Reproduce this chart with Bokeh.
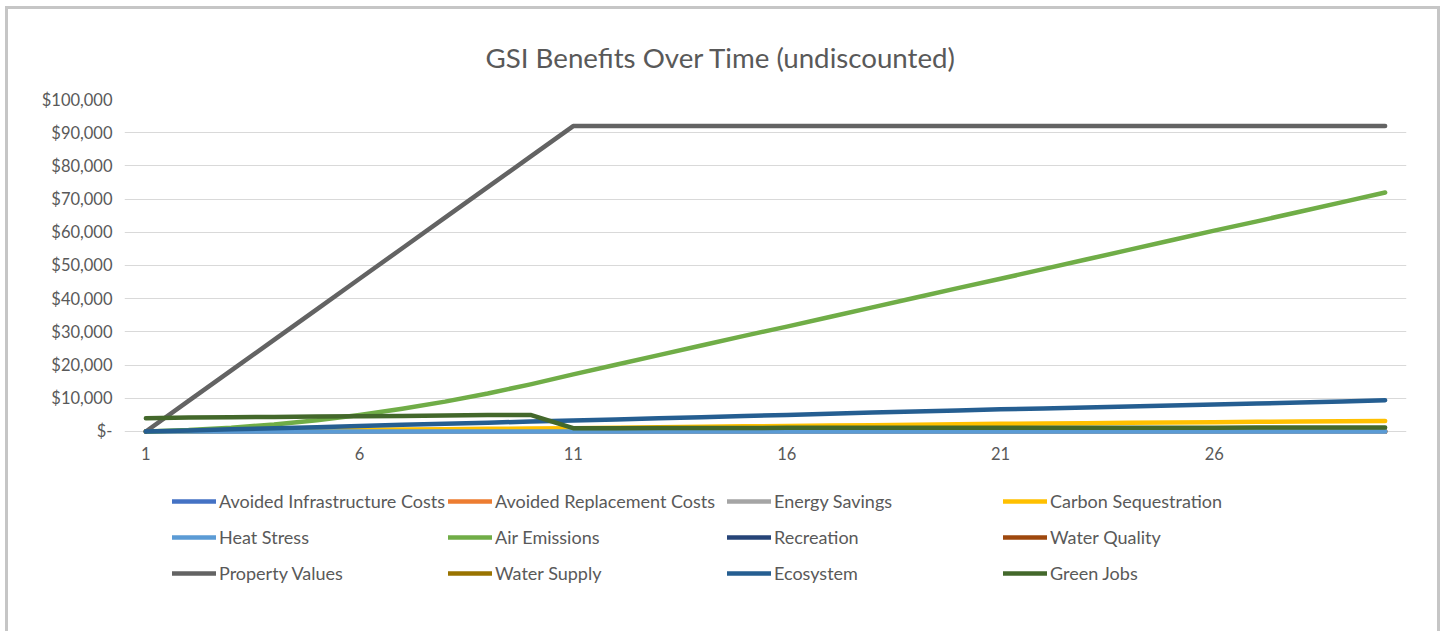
from bokeh.plotting import figure
from bokeh.models import (Range1d, FixedTicker, NumeralTickFormatter, Legend,
                          LegendItem, InlineStyleSheet, ColumnDataSource)
from bokeh.embed import file_html
from bokeh.resources import INLINE

# ---- data: yearly benefits in dollars (undiscounted) ----
years = list(range(1, 31))

avoided_infrastructure = [0] * 30
avoided_replacement = [0] * 30
energy_savings = [0] * 30
carbon_sequestration = [0, 100, 200, 300, 400, 500, 600, 700, 800, 900,
                        1000, 1150, 1300, 1450, 1550, 1650, 1800, 1900, 2050, 2150,
                        2300, 2400, 2500, 2600, 2700, 2800, 2900, 3000, 3100, 3200]
heat_stress = [0] * 30
air_emissions = [0, 420, 1130, 2130, 3420, 5000, 6860, 9000, 11450, 14200,
                 17200, 20100, 23000, 25900, 28800, 31600, 34500, 37400, 40300, 43200,
                 46000, 48900, 51800, 54700, 57600, 60500, 63300, 66200, 69100, 72000]
recreation = [0] * 30
water_quality = [0] * 30
property_values = [0, 9200, 18400, 27600, 36800, 46000, 55200, 64400, 73600, 82800,
                   92000, 92000, 92000, 92000, 92000, 92000, 92000, 92000, 92000, 92000,
                   92000, 92000, 92000, 92000, 92000, 92000, 92000, 92000, 92000, 92000]
water_supply = [0] * 30
ecosystem = [0, 300, 650, 1000, 1300, 1650, 2000, 2300, 2650, 3000,
             3300, 3650, 4000, 4300, 4650, 5000, 5350, 5700, 6000, 6350,
             6700, 6950, 7250, 7500, 7800, 8100, 8400, 8700, 9050, 9400]
green_jobs = [4000, 4200, 4300, 4400, 4500, 4600, 4700, 4800, 5000, 5000,
              1000, 1000, 1050, 1050, 1050, 1100, 1100, 1100, 1100, 1100,
              1100, 1150, 1150, 1150, 1150, 1150, 1200, 1200, 1200, 1200]

series_names = ["Avoided Infrastructure Costs", "Avoided Replacement Costs", "Energy Savings",
                "Carbon Sequestration", "Heat Stress", "Air Emissions", "Recreation",
                "Water Quality", "Property Values", "Water Supply", "Ecosystem", "Green Jobs"]
series_values = [avoided_infrastructure, avoided_replacement, energy_savings,
                 carbon_sequestration, heat_stress, air_emissions, recreation,
                 water_quality, property_values, water_supply, ecosystem, green_jobs]
series_colors = ["#4472C4", "#ED7D31", "#A5A5A5", "#FFC000", "#5B9BD5", "#70AD47",
                 "#264478", "#9E480E", "#636363", "#997300", "#255E91", "#43682B"]

x_ticks = [1, 6, 11, 16, 21, 26]
y_ticks = list(range(0, 100001, 10000))

FONT = "Lato"
TEXT_COLOR = "#595959"

frame_css = InlineStyleSheet(css="""
:host {
  margin-left: 5px;
  margin-top: 6px;
  border-top: 3px solid #c6c6c6;
  border-left: 3px solid #c6c6c6;
  border-right: 3px solid #c6c6c6;
}
""")

# the plot frame runs down to the legend; the value axis spans 0..100,000 in its top part
p = figure(width=1435, height=625, output_backend="svg", toolbar_location=None,
           x_range=Range1d(0.5, 30.5), y_range=Range1d(-56928, 100000),
           min_border_left=116, min_border_right=37, min_border_top=90,
           min_border_bottom=14, title="GSI Benefits Over Time (undiscounted)")
p.stylesheets = [frame_css]
p.outline_line_color = None
p.background_fill_color = "white"
p.border_fill_color = "white"

p.title.align = "left"
p.title.offset = 361
p.title.standoff = 52
p.title.text_font = FONT
p.title.text_font_size = "27.7px"
p.title.text_font_style = "normal"
p.title.text_color = TEXT_COLOR

# axes
p.xaxis.fixed_location = 0
p.xaxis.ticker = FixedTicker(ticks=x_ticks)
p.yaxis.ticker = FixedTicker(ticks=y_ticks)
p.yaxis.formatter = NumeralTickFormatter(format="$0,0")
p.yaxis.major_label_overrides = {0: "$-"}
for ax in (p.xaxis, p.yaxis):
    ax.axis_line_color = None
    ax.major_tick_line_color = None
    ax.minor_tick_line_color = None
    ax.major_tick_out = 0
    ax.major_tick_in = 0
    ax.major_label_text_font = FONT
    ax.major_label_text_font_size = "16.5px"
    ax.major_label_text_color = TEXT_COLOR
p.yaxis.major_label_standoff = 12
p.xaxis.major_label_standoff = 16

p.xgrid.grid_line_color = None
p.ygrid.grid_line_color = "#D9D9D9"
p.ygrid.grid_line_width = 1

# draw lines; all-zero series beneath the others
renderers = {}
draw_order = [6, 7, 9, 0, 1, 2, 3, 4, 5, 8, 10, 11]
for i in draw_order:
    src = ColumnDataSource(dict(x=years, y=series_values[i]))
    r = p.line("x", "y", source=src, line_color=series_colors[i], line_width=4.5,
               line_cap="round", line_join="round")
    renderers[series_names[i]] = r

# legend under the chart: 4 columns of 3 entries, read row by row
legend_cols = [[0, 4, 8], [1, 5, 9], [2, 6, 10], [3, 7, 11]]
col_x = [48, 324, 603, 879]
for cx, idxs in zip(col_x, legend_cols):
    items = [LegendItem(label=series_names[i], renderers=[renderers[series_names[i]]])
             for i in idxs]
    lg = Legend(items=items, location=(cx, 34), orientation="vertical",
                label_text_font=FONT, label_text_font_size="18px",
                label_text_color=TEXT_COLOR, glyph_width=44, glyph_height=26,
                label_height=26, spacing=10, padding=0, margin=0,
                label_standoff=3, border_line_color=None,
                background_fill_alpha=0, click_policy="none")
    p.add_layout(lg, "center")

open("out.html", "w").write(file_html(p, INLINE))
